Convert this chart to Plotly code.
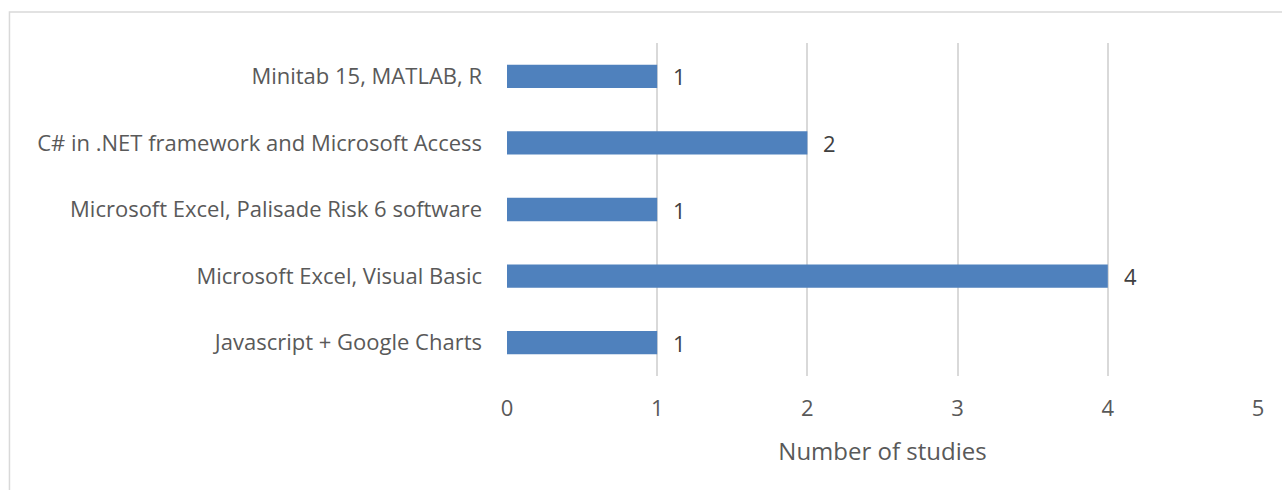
import plotly.graph_objects as go

categories = ["Javascript + Google Charts", "Microsoft Excel, Visual Basic",
              "Microsoft Excel, Palisade Risk 6 software",
              "C# in .NET framework and Microsoft Access", "Minitab 15, MATLAB, R"]
values = [1, 4, 1, 2, 1]
x_ticks = [0, 1, 2, 3, 4, 5]

FONT = "Open Sans"
GRAY = "#595959"

fig = go.Figure(go.Bar(
    y=categories, x=values, orientation="h", width=0.35,
    marker=dict(color="#4f81bd", line=dict(width=0)),
))

for c, v in zip(categories, values):
    fig.add_annotation(x=v, y=c, text=str(v), showarrow=False, xanchor="left",
                       xshift=14, font=dict(family=FONT, size=22, color="#404040"))

fig.update_layout(
    width=1282, height=490,
    margin=dict(l=507, r=24, t=43, b=114),
    paper_bgcolor="white", plot_bgcolor="white",
    showlegend=False,
    font=dict(family=FONT, size=22, color=GRAY),
    xaxis=dict(range=[0, 5], tickvals=x_ticks, showgrid=True, gridcolor="#d9d9d9",
               gridwidth=2, zeroline=False, showline=False, ticks="",
               ticklabelstandoff=17,
               tickfont=dict(size=22, color=GRAY),
               title=dict(text="Number of studies", font=dict(size=24, color=GRAY), standoff=22)),
    yaxis=dict(showgrid=False, zeroline=False, showline=False, ticks="",
               ticklabelstandoff=24, tickfont=dict(size=22, color=GRAY)),
    shapes=[dict(type="rect", xref="paper", yref="paper", x0=-0.6625, x1=1.2,
                 y0=-0.6, y1=1.0934, line=dict(color="#d9d9d9", width=1.5),
                 fillcolor="rgba(0,0,0,0)", layer="below")],
)

fig.write_html("out.html")
